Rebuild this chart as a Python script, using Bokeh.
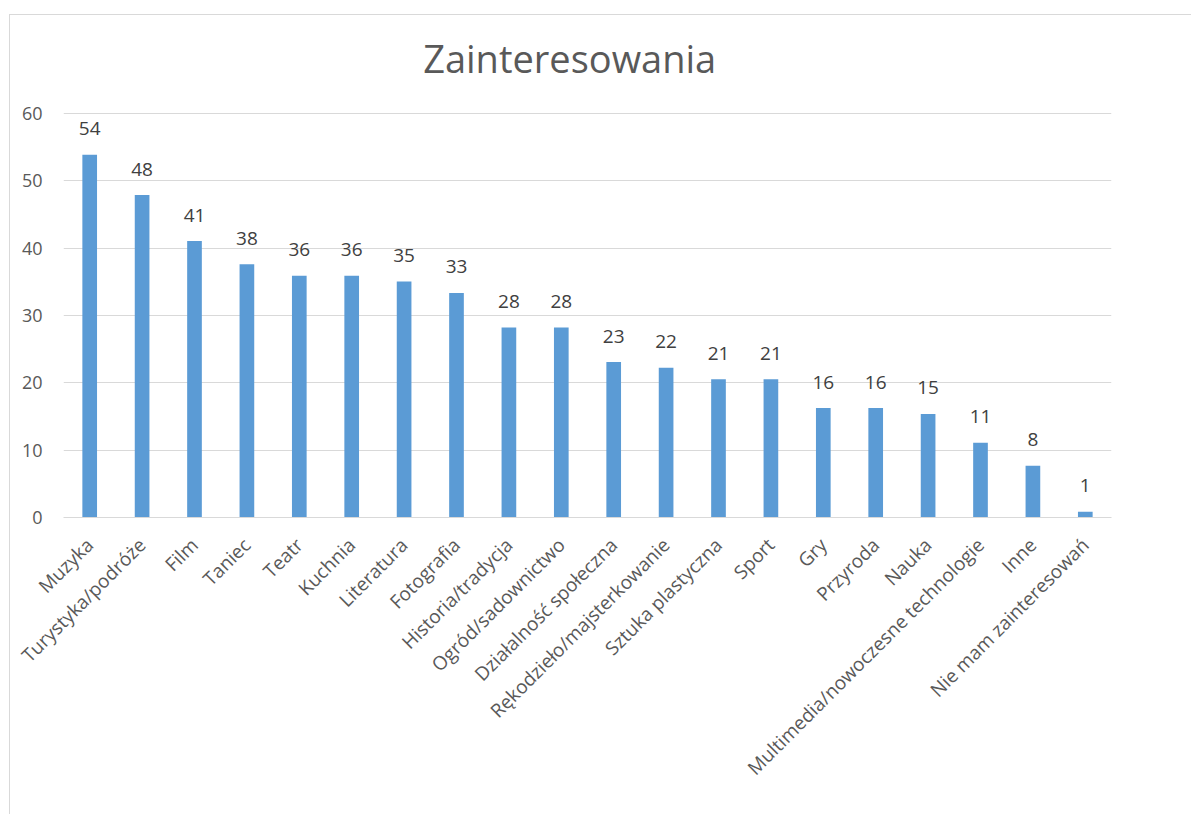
import math
from bokeh.plotting import figure
from bokeh.models import ColumnDataSource, FixedTicker, FactorRange, Range1d
from bokeh.core.properties import value
from bokeh.embed import file_html
from bokeh.resources import INLINE

categories = ["Muzyka", "Turystyka/podróże", "Film", "Taniec", "Teatr", "Kuchnia",
              "Literatura", "Fotografia", "Historia/tradycja", "Ogród/sadownictwo",
              "Działalność społeczna", "Rękodzieło/majsterkowanie", "Sztuka plastyczna",
              "Sport", "Gry", "Przyroda", "Nauka", "Multimedia/nowoczesne technologie",
              "Inne", "Nie mam zainteresowań"]
values = [53.85, 47.86, 41.03, 37.61, 35.90, 35.90, 35.04, 33.33, 28.21, 28.21,
          23.08, 22.22, 20.51, 20.51, 16.24, 16.24, 15.38, 11.11, 7.69, 0.85]
y_ticks = [0, 10, 20, 30, 40, 50, 60]
title_text = ["Zainteresowania"]

FONT = "Open Sans"

src = ColumnDataSource(dict(cat=categories, val=values,
                            lab=[f"{v:.0f}" for v in values]))

p = figure(x_range=FactorRange(*categories), y_range=Range1d(0, 72),
           width=1182, height=800, output_backend="svg", toolbar_location=None,
           min_border_left=53, min_border_right=81, min_border_top=17,
           min_border_bottom=298)
p.styles = {"margin-left": "9px", "margin-top": "14px",
            "border-left": "1px solid #D9D9D9", "border-top": "1px solid #D9D9D9"}

p.vbar(x="cat", top="val", width=0.28, source=src, color="#5B9BD5", line_color=None)
p.text(x="cat", y="val", text="lab", source=src, text_align="center",
       text_baseline="alphabetic", y_offset=-26, text_font=value(FONT),
       text_font_size="19px", text_color="#404040")

# chart title, drawn inside the (extended) frame
p.text(x=[9.66], y=[68.2], text=title_text, text_align="center",
       text_baseline="alphabetic", text_font=value(FONT),
       text_font_size="38px", text_color="#595959")

p.outline_line_color = None
p.background_fill_color = "white"
p.border_fill_color = "white"
p.xgrid.grid_line_color = None
p.ygrid.grid_line_color = "#D9D9D9"
p.ygrid.grid_line_width = 1
p.ygrid.ticker = FixedTicker(ticks=y_ticks)

p.yaxis.ticker = FixedTicker(ticks=y_ticks)
p.yaxis.axis_line_color = None
p.yaxis.major_tick_line_color = None
p.yaxis.minor_tick_line_color = None
p.yaxis.major_label_text_font = FONT
p.yaxis.major_label_text_font_size = "18px"
p.yaxis.major_label_text_color = "#595959"
p.yaxis.major_label_standoff = 15

p.xaxis.axis_line_color = "#D9D9D9"
p.xaxis.major_tick_line_color = None
p.xaxis.minor_tick_line_color = None
p.xaxis.major_label_orientation = math.pi / 4
p.xaxis.major_label_text_font = FONT
p.xaxis.major_label_text_font_size = "19px"
p.xaxis.major_label_text_color = "#595959"
p.xaxis.major_label_standoff = 18

open("out.html", "w").write(file_html(p, INLINE))
